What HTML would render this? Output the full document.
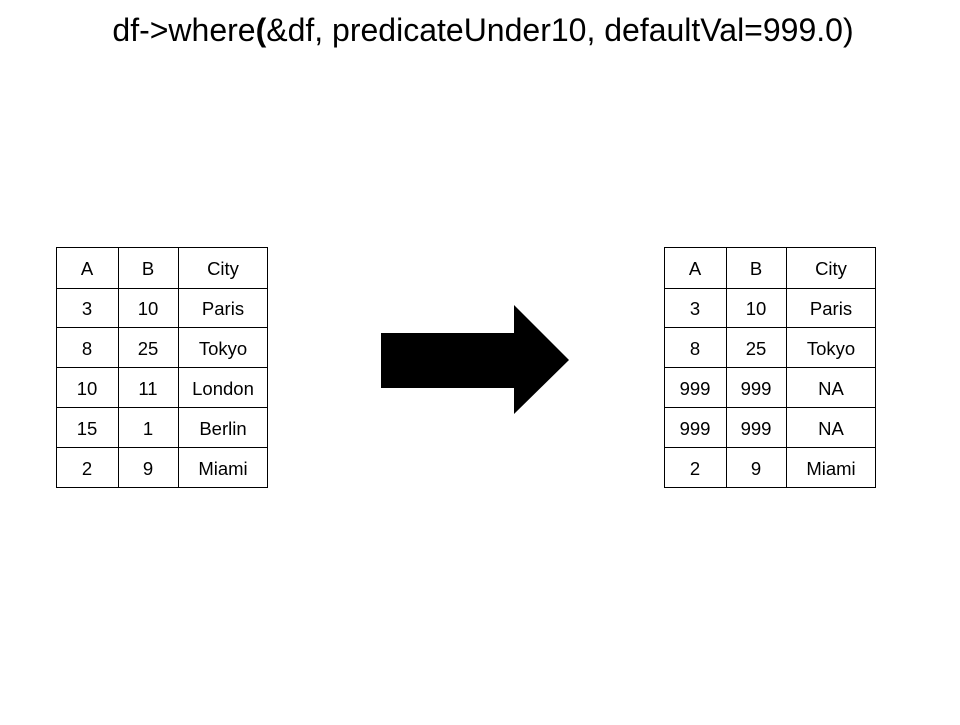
<!DOCTYPE html>
<html><head><meta charset="utf-8"><style>html,body{margin:0;padding:0;background:#fff;}</style></head>
<body>
<svg width="960" height="720" xmlns="http://www.w3.org/2000/svg" font-family="Liberation Sans, Arial, sans-serif">
<rect width="960" height="720" fill="#fff"/>
<text x="483" y="41" font-size="32" text-anchor="middle" fill="#000">df-&gt;where<tspan font-weight="bold">(</tspan>&amp;df, predicateUnder10, defaultVal=999.0)</text>
<g fill="none" stroke="#000" stroke-width="1">
<rect x="56.5" y="247.5" width="211" height="240"/>
<line x1="118.5" y1="247" x2="118.5" y2="488"/>
<line x1="178.5" y1="247" x2="178.5" y2="488"/>
<line x1="56" y1="288.5" x2="268" y2="288.5"/>
<line x1="56" y1="327.5" x2="268" y2="327.5"/>
<line x1="56" y1="367.5" x2="268" y2="367.5"/>
<line x1="56" y1="407.5" x2="268" y2="407.5"/>
<line x1="56" y1="447.5" x2="268" y2="447.5"/>
<rect x="664.5" y="247.5" width="211" height="240"/>
<line x1="726.5" y1="247" x2="726.5" y2="488"/>
<line x1="786.5" y1="247" x2="786.5" y2="488"/>
<line x1="664" y1="288.5" x2="876" y2="288.5"/>
<line x1="664" y1="327.5" x2="876" y2="327.5"/>
<line x1="664" y1="367.5" x2="876" y2="367.5"/>
<line x1="664" y1="407.5" x2="876" y2="407.5"/>
<line x1="664" y1="447.5" x2="876" y2="447.5"/>
</g>
<g font-size="18.5" text-anchor="middle" fill="#000">
<text x="87" y="275">A</text><text x="148" y="275">B</text><text x="223" y="275">City</text>
<text x="87" y="315">3</text><text x="148" y="315">10</text><text x="223" y="315">Paris</text>
<text x="87" y="355">8</text><text x="148" y="355">25</text><text x="223" y="355">Tokyo</text>
<text x="87" y="395">10</text><text x="148" y="395">11</text><text x="223" y="395">London</text>
<text x="87" y="435">15</text><text x="148" y="435">1</text><text x="223" y="435">Berlin</text>
<text x="87" y="475">2</text><text x="148" y="475">9</text><text x="223" y="475">Miami</text>
<text x="695" y="275">A</text><text x="756" y="275">B</text><text x="831" y="275">City</text>
<text x="695" y="315">3</text><text x="756" y="315">10</text><text x="831" y="315">Paris</text>
<text x="695" y="355">8</text><text x="756" y="355">25</text><text x="831" y="355">Tokyo</text>
<text x="695" y="395">999</text><text x="756" y="395">999</text><text x="831" y="395">NA</text>
<text x="695" y="435">999</text><text x="756" y="435">999</text><text x="831" y="435">NA</text>
<text x="695" y="475">2</text><text x="756" y="475">9</text><text x="831" y="475">Miami</text>
</g>
<polygon points="381,333 514,333 514,305 569,360 514,414 514,388 381,388" fill="#000"/>
</svg>
</body></html>
